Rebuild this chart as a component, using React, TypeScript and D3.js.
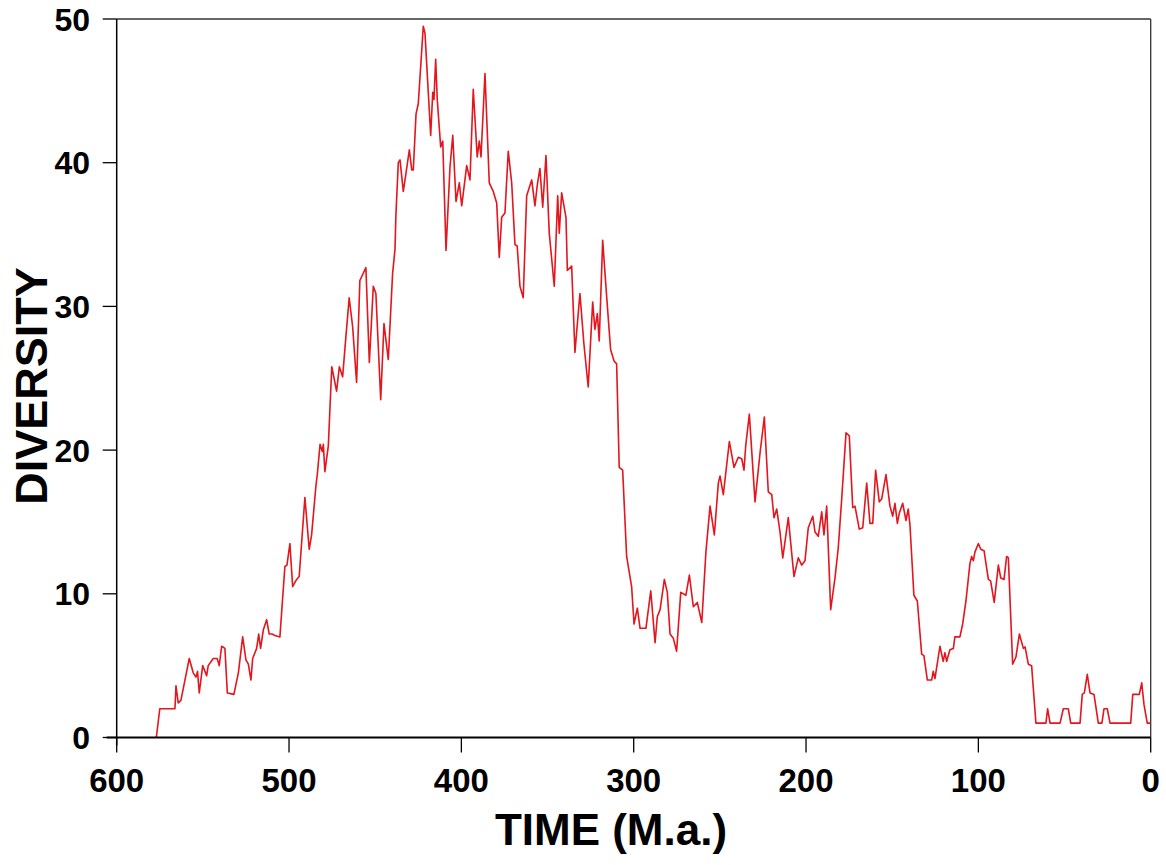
import React from "react";
import * as d3 from "d3";

// Time (Ma) and diversity
const timeMa = [
  577, 575, 566.2, 565.6, 564.3, 562.7, 557.9, 555.6, 554.0, 553.1, 552.1, 550.1, 547.8, 546.9, 544.0, 541.7, 540.5, 539.1, 537.2, 535.8,
  532.0, 529.4, 526.9, 525.0, 523.6, 522.1, 521.1, 518.8, 517.6, 516.5, 514.9, 513.0, 511.5, 509.9, 508.2, 505.3, 502.4, 501.2, 499.5, 497.9,
  495.6, 494.1, 490.8, 488.3, 486.9, 484.4, 483.6, 482.0, 480.7, 480.1, 479.2, 477.2, 475.2, 472.4, 470.8, 468.9, 467.0, 465.1, 463.1, 460.8,
  458.9, 455.4, 453.4, 451.1, 449.6, 446.8, 444.9, 442.4, 439.9, 438.5, 438.0, 436.6, 435.6, 433.7, 432.1, 430.2, 428.8, 427.9, 426.3, 425.0,
  422.1, 421.1, 419.2, 417.8, 416.6, 415.9, 414.9, 414.0, 412.0, 410.8, 408.9, 406.6, 405.0, 403.1, 401.2, 399.8, 396.9, 395.0, 393.1, 390.8,
  389.6, 388.6, 386.3, 383.8, 381.5, 379.5, 378.0, 376.6, 374.7, 372.8, 370.8, 368.9, 367.6, 366.0, 364.1, 362.1, 359.2, 357.3, 355.9, 354.4,
  352.8, 350.9, 349.0, 346.1, 344.1, 343.2, 341.8, 339.3, 338.5, 336.0, 334.1, 331.2, 328.9, 326.4, 323.8, 322.5, 321.1, 320.0, 318.0, 315.7,
  313.4, 311.4, 309.9, 308.4, 306.4, 304.1, 301.2, 299.8, 297.9, 296.3, 292.9, 290.1, 287.6, 286.3, 284.7, 282.2, 280.5, 278.9, 277.0, 275.1,
  272.7, 269.7, 267.7, 265.4, 263.1, 260.5, 258.1, 255.7, 253.2, 250.9, 249.9, 248.0, 244.5, 241.8, 239.3, 237.3, 236.0, 235.0, 232.9, 229.6,
  226.7, 224.2, 221.9, 219.9, 218.6, 217.0, 215.1, 213.5, 210.3, 207.0, 204.5, 202.5, 200.6, 198.7, 196.1, 194.8, 192.9, 190.9, 189.6, 188.0,
  185.7, 183.2, 181.3, 179.3, 176.8, 174.9, 172.9, 171.6, 169.1, 167.1, 164.8, 162.9, 161.3, 159.6, 157.5, 156.1, 153.6, 151.3, 149.7, 148.4,
  147.0, 145.9, 143.9, 142.0, 140.7, 139.7, 137.4, 135.4, 132.9, 131.6, 129.6, 127.1, 126.2, 125.2, 122.3, 120.4, 119.4, 118.4, 116.5, 114.5,
  113.6, 110.7, 109.1, 107.2, 104.9, 103.9, 102.9, 102.0, 100.0, 98.6, 96.7, 94.2, 92.9, 90.8, 88.4, 87.0, 85.1, 83.6, 82.6, 80.1,
  78.2, 76.2, 73.9, 72.9, 71.0, 69.1, 66.6, 60.8, 59.8, 58.4, 52.6, 50.7, 47.8, 46.4, 41.0, 39.7, 38.5, 36.8, 35.2, 32.9,
  30.4, 28.3, 27.1, 25.2, 23.6, 11.6, 10.4, 6.6, 5.2, 3.9, 2.0, 0,
];

const diversity = [
  0, 2.0, 2.0, 3.6, 2.4, 2.6, 5.5, 4.5, 4.2, 4.6, 3.1, 5.0, 4.3, 5.0, 5.5, 5.5, 5.0, 6.35, 6.2, 3.1,
  3.0, 4.5, 7.0, 5.4, 5.1, 4.0, 5.5, 6.2, 7.2, 6.2, 7.5, 8.2, 7.2, 7.2, 7.1, 7.0, 11.9, 12.0, 13.5, 10.5,
  11.0, 11.2, 16.7, 13.1, 14.1, 17.5, 18.3, 20.4, 19.9, 20.4, 18.5, 20.3, 25.8, 24.1, 25.8, 25.1, 27.9, 30.6, 28.6, 24.7,
  31.8, 32.7, 26.1, 31.4, 30.9, 23.5, 28.8, 26.3, 32.3, 34.0, 36.3, 40.0, 40.2, 38.0, 39.3, 40.9, 39.5, 39.5, 43.4, 44.1,
  49.5, 49.0, 44.9, 41.9, 44.9, 44.4, 47.2, 44.4, 41.1, 41.5, 33.9, 39.7, 41.9, 37.3, 38.6, 37.0, 39.8, 38.8, 45.1, 40.4,
  41.5, 40.4, 46.2, 38.6, 38.0, 37.2, 33.4, 36.2, 36.5, 40.8, 38.6, 34.3, 34.2, 31.4, 30.6, 37.7, 38.8, 37.0, 38.5, 39.6,
  36.9, 40.5, 35.1, 31.4, 37.7, 35.1, 37.9, 36.2, 32.5, 32.8, 26.8, 30.9, 27.4, 24.4, 30.3, 28.4, 29.5, 27.6, 34.6, 30.7,
  27.0, 26.2, 26.0, 18.8, 18.6, 12.6, 10.5, 7.9, 9.0, 7.6, 7.6, 10.2, 6.6, 8.4, 8.9, 11.0, 10.1, 7.2, 6.9, 6.0,
  10.1, 9.9, 11.3, 9.1, 9.4, 8.0, 12.9, 16.1, 14.1, 17.7, 18.2, 16.9, 20.6, 18.8, 19.5, 19.4, 18.6, 20.3, 22.5, 16.4,
  19.8, 22.3, 17.1, 16.9, 15.3, 15.9, 14.3, 12.5, 15.3, 11.2, 12.5, 12.0, 12.3, 14.6, 15.4, 14.3, 14.0, 15.7, 14.1, 16.1,
  8.9, 11.1, 13.2, 16.6, 21.2, 21.0, 16.0, 16.1, 14.5, 14.6, 17.7, 14.9, 14.9, 18.6, 16.4, 16.6, 18.3, 16.1, 15.4, 16.3,
  14.9, 15.6, 16.3, 15.1, 15.9, 14.8, 9.9, 9.5, 5.8, 5.7, 4.0, 4.0, 4.6, 4.1, 6.35, 5.3, 5.9, 5.3, 6.1, 6.2,
  7.0, 7.0, 7.9, 9.5, 12.1, 12.6, 12.3, 12.9, 13.5, 13.1, 13.0, 11.0, 10.9, 9.4, 12.0, 11.1, 11.0, 12.6, 12.5, 5.1,
  5.6, 7.2, 6.2, 6.3, 5.1, 5.0, 1, 1, 2, 1, 1, 2, 2, 1, 1, 3, 3.1, 4.4, 3.1, 3,
  1, 1, 2, 2, 1, 1, 3, 3, 3.8, 2.3, 1, 1,
];

const xTickValues = [600, 500, 400, 300, 200, 100, 0];
const yTickValues = [0, 10, 20, 30, 40, 50];
const xAxisTitle = "TIME (M.a.)";
const yAxisTitle = "DIVERSITY";

const W = 1166;
const H = 865;
const FONT = "'Liberation Sans', Arial, Helvetica, sans-serif";

export default function App() {
  const left = 116.7;
  const right = 1150.7;
  const top = 19;
  const bottom = 737.5;

  const x = d3.scaleLinear().domain([600, 0]).range([left, right]);
  const y = d3.scaleLinear().domain([0, 50]).range([bottom, top]);

  const pts: [number, number][] = timeMa.map((t, i) => [t, diversity[i]]);
  const line = d3
    .line<[number, number]>()
    .x((d) => x(d[0]))
    .y((d) => y(d[1]));

  return (
    <svg
      width={W}
      height={H}
      style={{ position: "absolute", left: 0, top: 0, background: "#fff" }}
      fontFamily={FONT}
    >
      <rect x={0} y={0} width={W} height={H} fill="#fff" />
      {/* frame */}
      <line x1={left} x2={right} y1={top} y2={top} stroke="#333" strokeWidth={1.3} />
      <line x1={right} x2={right} y1={top} y2={bottom} stroke="#333" strokeWidth={1.3} />
      {/* data line */}
      <path d={line(pts) || ""} fill="none" stroke="#e3151d" strokeWidth={1.6} strokeLinejoin="round" />
      {/* axes */}
      <line x1={left} x2={left} y1={top} y2={bottom + 8} stroke="#000" strokeWidth={1.5} />
      <line x1={left - 10} x2={right} y1={bottom} y2={bottom} stroke="#000" strokeWidth={1.8} />
      {yTickValues.map((v) => (
        <g key={"y" + v}>
          <line x1={left - 14} x2={left} y1={y(v)} y2={y(v)} stroke="#000" strokeWidth={1.3} />
          <text
            x={90}
            y={y(v) + 11.5}
            textAnchor="end"
            fontSize={32}
            fontWeight="bold"
            fill="#000"
          >
            {v}
          </text>
        </g>
      ))}
      {xTickValues.map((v) => (
        <g key={"x" + v}>
          <line x1={x(v)} x2={x(v)} y1={bottom} y2={bottom + 15} stroke="#000" strokeWidth={1.3} />
          <text
            x={x(v)}
            y={792}
            textAnchor="middle"
            fontSize={33}
            fontWeight="bold"
            fill="#000"
          >
            {v}
          </text>
        </g>
      ))}
      <text x={611} y={845} textAnchor="middle" fontSize={44} fontWeight="bold" fill="#000">
        {xAxisTitle}
      </text>
      <text
        transform={`translate(47,386) rotate(-90)`}
        textAnchor="middle"
        fontSize={45}
        fontWeight="bold"
        fill="#000"
      >
        {yAxisTitle}
      </text>
    </svg>
  );
}
